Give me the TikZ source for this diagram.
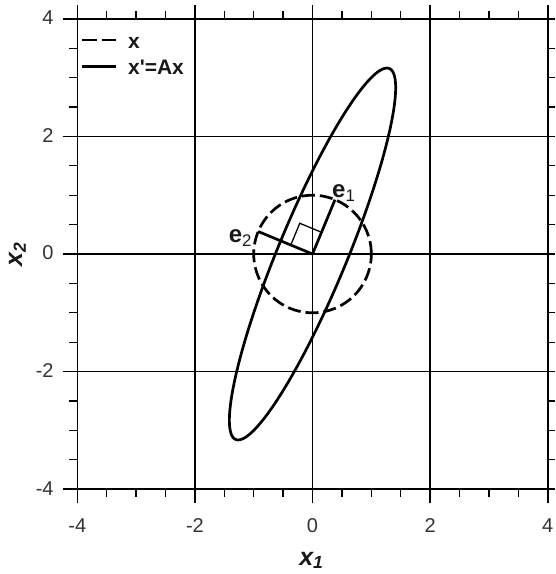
\documentclass[tikz,border=0pt]{standalone}
\usepackage{fontspec}
\setmainfont{Liberation Sans}
\usetikzlibrary{positioning}

\begin{document}
\begin{tikzpicture}[x=58.8pt, y=58.8pt,
        gridline/.style={draw=black, line width=1.3pt},
        frameline/.style={draw=black, line width=1.6pt},
        minortick/.style={draw=black, line width=1.3pt},
        curve/.style={draw=black, line width=2.7pt},
        dashcurve/.style={curve, dash pattern=on 13pt off 5pt},
        vec/.style={draw=black, line width=2.7pt},
        sqline/.style={draw=black, line width=1.3pt},
        ticklabel/.style={font=\fontsize{20}{24}\selectfont, text=black!80, inner sep=0pt},
        legendtext/.style={font=\fontsize{21}{25}\selectfont\bfseries, text=black!90, inner sep=0pt},
        elabel/.style={font=\fontsize{24}{28}\selectfont, text=black!90, inner sep=0pt},
        axistitle/.style={font=\fontsize{25}{30}\selectfont\bfseries\itshape, text=black!90, inner sep=0pt}]

        \useasboundingbox (-5.315,-5.442) rectangle (4.124,4.320);

        % grid and major ticks
        \foreach \v in {-2,0,2} {
            \draw [gridline] (\v,-4.24) -- (\v,4.24);
            \draw [gridline] (-4.25,\v) -- (4.124,\v);
        }
        \draw [frameline] (-4,-4.24) -- (-4,4.24);
        \draw [frameline] (4,-4.24) -- (4,4.24);
        \draw [frameline] (-4.25,-4) -- (4.124,-4);
        \draw [frameline] (-4.25,4) -- (4.124,4);

        % minor ticks
        \foreach \v in {-3.5,-3,-2.5,-1.5,-1,-0.5,0.5,1,1.5,2.5,3,3.5} {
            \draw [minortick] (\v,-4) -- (\v,-4.136);
            \draw [minortick] (\v,4) -- (\v,4.136);
            \draw [minortick] (-4,\v) -- (-4.136,\v);
            \draw [minortick] (4,\v) -- (4.124,\v);
        }

        \foreach \v [count=\i] in {-4,-2,0,2,4} {
            \node [ticklabel, anchor=base] (xt\i) at (\v,-4.73) {\v};
            \node [ticklabel, anchor=base east] (yt\i) at (-4.40,\v-0.10) {\v};
        }
        \node [axistitle, anchor=base] (xtitle) at (-0.02,-5.29) {x\textsubscript{1}};
        \node [axistitle, rotate=90, anchor=base] (ytitle) at (-4.94,0) {x\textsubscript{2}};

        % x' = A x  with A = [1 1; 1 3]
        \draw [curve] plot [domain=0:360, samples=181] ({cos(\x)+sin(\x)}, {cos(\x)+3*sin(\x)}) -- cycle;
        \draw [dashcurve] (0,0) circle [radius=1];

        \coordinate (o) at (0,0);
        \coordinate (e1) at (67.5:1);
        \coordinate (e2) at (157.5:1);
        \draw [vec] (o) -- (e1);
        \draw [vec] (o) -- (e2);
        \draw [sqline, rotate=67.5] (0.4,0) -- (0.4,0.4) -- (0,0.4);
        \node [elabel, above right=-2pt and -3pt of e1] (e1lab) {\textbf{e}\textsubscript{1}};
        \node [elabel, left=6pt of e2, yshift=-6.5pt] (e2lab) {\textbf{e}\textsubscript{2}};

        % legend
        \coordinate (la1) at (-3.915,3.64);
        \coordinate (la2) at (-3.347,3.64);
        \draw [curve, dash pattern=on 14.5pt off 5pt] (la1) -- (la2);
        \node [legendtext, anchor=base west] (lx) at (-3.14,3.50) {x};
        \coordinate (lb1) at (-3.915,3.19);
        \coordinate (lb2) at (-3.347,3.19);
        \draw [curve] (lb1) -- (lb2);
        \node [legendtext, anchor=base west] (lax) at (-3.14,3.056) {x\textquotesingle=Ax};
    \end{tikzpicture}
\end{document}
